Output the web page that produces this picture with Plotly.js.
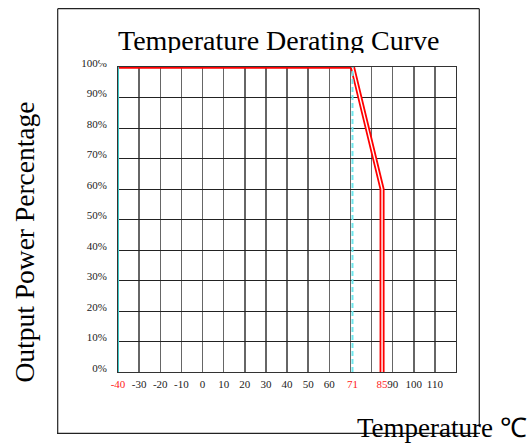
<!DOCTYPE html>
<html><head><meta charset="utf-8">
<script src="https://cdn.plot.ly/plotly-3.0.1.min.js"></script>
<style>html,body{margin:0;padding:0;background:#fff}#chart{width:532px;height:443px}</style>
</head><body><div id="chart"></div>
<script>
// ---- data ----
const flatTemp = [-40, 71];
const flatPower = [100, 100];
const derateTemp = [71, 85, 85];
const deratePower = [100, 60, 0];
const startTemp = [-40, -40];
const kneeTemp = [71, 71];
const refPower = [0, 100];
const xTickVals = [-40, -30, -20, -10, 0, 10, 20, 30, 40, 50, 60, 71, 85, 90, 100, 110];
const xTickLabels = ['-40', '-30', '-20', '-10', '0', '10', '20', '30', '40', '50', '60', '71', '85', '90', '100', '110'];
const redTickVals = [-40, 71, 85];
const yTickVals = [0, 10, 20, 30, 40, 50, 60, 70, 80, 90, 100];
const yTickLabels = ['0%', '10%', '20%', '30%', '40%', '50%', '60%', '70%', '80%', '90%', '100%'];
const titleText = 'Temperature Derating Curve';
const yTitleText = 'Output Power Percentage';
const xTitleText = 'Temperature ℃';

// ---- layout helpers ----
const W = 532, H = 443, ML = 118, MR = 76, MT = 67, MB = 71;
const PW = W - ML - MR, PH = H - MT - MB;
const px = x => (x - ML) / PW;
const py = y => (H - MB - y) / PH;
const serif = 'Liberation Serif, Times New Roman, serif';

const ticktext = xTickVals.map((v, i) =>
  redTickVals.includes(v) ? '<span style="color:#ff1a1a">' + xTickLabels[i] + '</span>' : xTickLabels[i]);

const traces = [
  {x: startTemp, y: refPower, xaxis: 'x2', mode: 'lines', line: {color: '#3cc8c8', width: 2}, hoverinfo: 'skip', cliponaxis: false},
  {x: kneeTemp, y: refPower, xaxis: 'x2', mode: 'lines', line: {color: '#6ee8ee', width: 2, dash: '5px,3px'}, hoverinfo: 'skip'},
  {x: flatTemp, y: flatPower, mode: 'lines', line: {color: '#ff0000', width: 3.5}, cliponaxis: false},
  {x: derateTemp, y: deratePower, mode: 'lines', line: {color: '#ff0000', width: 5}, cliponaxis: false},
  {x: derateTemp, y: deratePower, mode: 'lines', line: {color: '#ffffff', width: 1.4}, cliponaxis: false}
];

const lineStyle = {color: '#222', width: 1.2};
const shapes = [
  {type: 'line', xref: 'paper', yref: 'paper', x0: px(57.7), x1: px(479.3), y0: py(8.7), y1: py(8.7), line: lineStyle},
  {type: 'line', xref: 'paper', yref: 'paper', x0: px(57.7), x1: px(57.7), y0: py(8.7), y1: py(433.3), line: lineStyle},
  {type: 'line', xref: 'paper', yref: 'paper', x0: px(479.3), x1: px(479.3), y0: py(8.7), y1: py(427), line: lineStyle},
  {type: 'line', xref: 'paper', yref: 'paper', x0: px(57), x1: px(480), y0: py(433.3), y1: py(433.3), line: lineStyle}
];

const annotations = [
  {text: titleText, xref: 'paper', yref: 'paper', x: px(278), y: py(41), xanchor: 'center', yanchor: 'middle',
   showarrow: false, font: {family: serif, size: 28, color: '#000'}},
  {text: ' ', xref: 'paper', yref: 'paper', x: px(280), y: py(52.8), xanchor: 'center', yanchor: 'top',
   width: 360, height: 10, bgcolor: '#ffffff', borderpad: 0, borderwidth: 0, showarrow: false},
  {text: yTitleText, xref: 'paper', yref: 'paper', x: px(24), y: py(242.5), xanchor: 'center', yanchor: 'middle',
   textangle: -90, showarrow: false, font: {family: serif, size: 27.5, color: '#000'}},
  {text: xTitleText, xref: 'paper', yref: 'paper', x: px(355), y: py(428), xanchor: 'left', yanchor: 'middle',
   showarrow: false, font: {family: serif, size: 27, color: '#000'}}
];

const layout = {
  width: W, height: H,
  margin: {l: ML, r: MR, t: MT, b: MB, pad: 0},
  paper_bgcolor: '#fff', plot_bgcolor: '#fff',
  showlegend: false,
  xaxis: {range: [-40, 120], tickmode: 'linear', tick0: -40, dtick: 10, showticklabels: false,
          showgrid: true, gridcolor: '#666', gridwidth: 1.5, zeroline: false,
          showline: true, mirror: true, linecolor: '#333', linewidth: 1, ticks: ''},
  xaxis2: {overlaying: 'x', anchor: 'y', side: 'bottom', range: [-40, 120], tickmode: 'array',
           tickvals: xTickVals, ticktext: ticktext, showgrid: false, zeroline: false, ticks: '',
           tickangle: 0, ticklabelstandoff: 4, tickfont: {family: serif, size: 11, color: '#222'}},
  yaxis: {range: [0, 100], tickmode: 'array', tickvals: yTickVals, ticktext: yTickLabels,
          showgrid: true, gridcolor: '#222', gridwidth: 1, zeroline: false, ticks: '',
          showline: true, mirror: true, linecolor: '#333', linewidth: 1,
          ticklabelstandoff: 8, ticklabelshift: -4, tickfont: {family: serif, size: 11, color: '#222'}},
  shapes: shapes,
  annotations: annotations
};

Plotly.newPlot('chart', traces, layout, {displayModeBar: false, staticPlot: true});
</script>
</body></html>
